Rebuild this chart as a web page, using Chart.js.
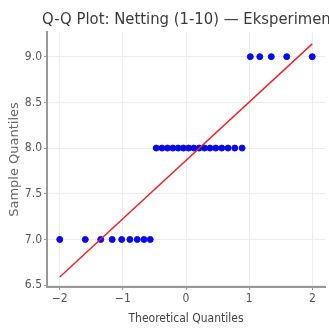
<!DOCTYPE html>
<html>
<head>
<meta charset="utf-8">
<script src="https://cdn.jsdelivr.net/npm/chart.js@4/dist/chart.umd.min.js"></script>
<style>
html,body{margin:0;padding:0;background:#fff;}
#wrap{width:329px;height:329px;position:relative;}
</style>
</head>
<body>
<div id="wrap"><canvas id="c"></canvas></div>
<script>
const chartTitle = "Q-Q Plot: Netting (1-10) — Eksperimen";
const xAxisTitle = "Theoretical Quantiles";
const yAxisTitle = "Sample Quantiles";
const theoreticalQ = [-1.998,-1.594,-1.350,-1.168,-1.018,-0.888,-0.772,-0.665,-0.566,
  -0.471,-0.380,-0.293,-0.208,-0.124,-0.041,0.041,0.124,0.208,0.293,0.380,0.471,0.566,0.665,0.772,0.888,
  1.018,1.168,1.350,1.594,1.998];
const sampleQ = [7,7,7,7,7,7,7,7,7,
  8,8,8,8,8,8,8,8,8,8,8,8,8,8,8,8,
  9,9,9,9,9];
const fitLineX = [-1.998, 1.998];
const fitLineY = [6.59, 9.14];
const xTicks = [-2,-1,0,1,2];
const yTicks = [6.5,7.0,7.5,8.0,8.5,9.0];

const pts = theoreticalQ.map((x,i)=>({x:x,y:sampleQ[i]}));
const linePts = fitLineX.map((x,i)=>({x:x,y:fitLineY[i]}));

const narrow = '"DejaVu Sans Condensed", "DejaVu Sans", sans-serif';

const titlePlugin = {
  id:'topTitle',
  afterDraw(chart){
    const ctx = chart.ctx;
    ctx.save();
    ctx.font = '16.5px ' + narrow;
    ctx.fillStyle = '#3a3a3a';
    ctx.textBaseline = 'alphabetic';
    ctx.textAlign = 'left';
    ctx.fillText(chartTitle, 42, 24);
    ctx.restore();
  }
};

const tickFont = {family:narrow, size:12};
new Chart(document.getElementById('c'), {
  type:'scatter',
  data:{datasets:[
    {type:'line', data:linePts, borderColor:'#e8202a', borderWidth:1.4, pointRadius:0, fill:false, order:0},
    {type:'scatter', data:pts, backgroundColor:'#0a0ae8', borderColor:'#0a0ae8', pointRadius:3, pointHoverRadius:3, order:1}
  ]},
  options:{
    responsive:true, maintainAspectRatio:false, animation:false,
    layout:{padding:{top:32,right:3,left:0,bottom:0}},
    plugins:{legend:{display:false}, tooltip:{enabled:false}},
    scales:{
      x:{type:'linear', min:-2.2, max:2.2,
        afterBuildTicks(s){ s.ticks = xTicks.map(v=>({value:v})); },
        afterFit(s){ s.height = 42; },
        grid:{color:'#ececec', lineWidth:1, tickColor:'#999', tickLength:3},
        border:{color:'#999', width:2},
        ticks:{font:tickFont, color:'#555', padding:2, callback:v=>v<0?'\u2212'+Math.abs(v):String(v), maxRotation:0},
        title:{display:true, text:xAxisTitle, font:{family:narrow, size:12}, color:'#444', padding:{top:0,bottom:3}}
      },
      y:{type:'linear', min:6.48, max:9.27,
        afterBuildTicks(s){ s.ticks = yTicks.map(v=>({value:v})); },
        afterFit(s){ s.width = 47; },
        grid:{color:'#ececec', lineWidth:1, tickColor:'#999', tickLength:3},
        border:{color:'#999', width:2},
        ticks:{font:tickFont, color:'#555', padding:2, callback:v=>Number(v).toFixed(1)},
        title:{display:true, text:yAxisTitle, font:{family:'"DejaVu Sans"', size:13}, color:'#666', padding:{top:7,bottom:0}}
      }
    }
  },
  plugins:[titlePlugin]
});
</script>
</body>
</html>
